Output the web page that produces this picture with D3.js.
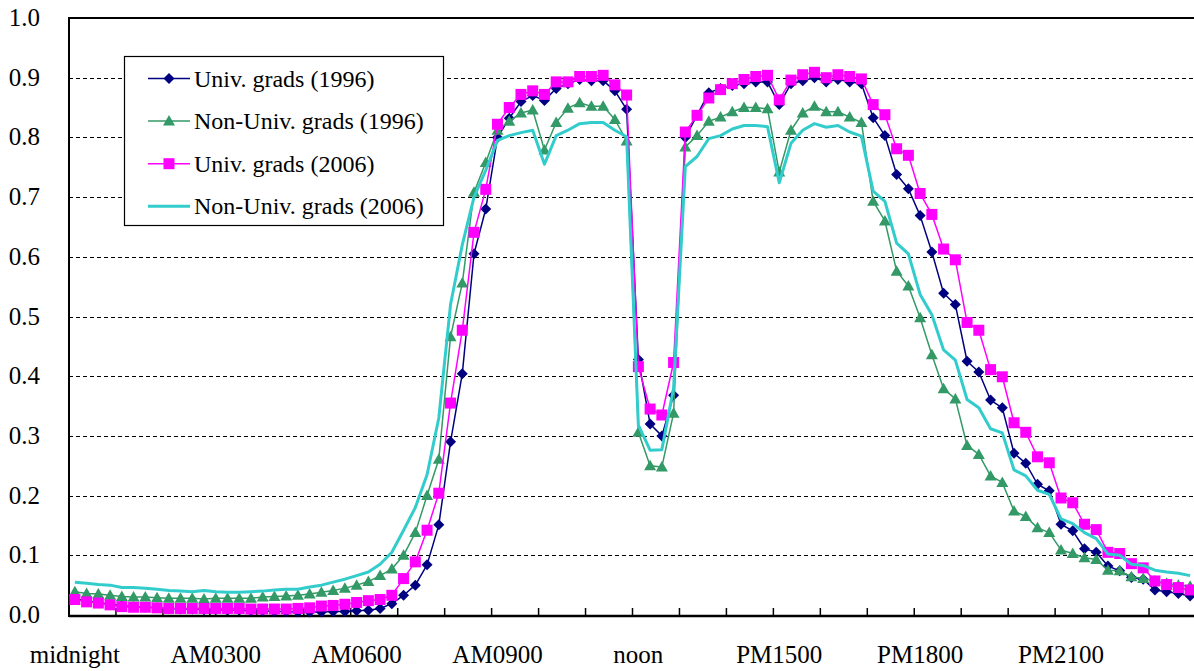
<!DOCTYPE html>
<html>
<head>
<meta charset="utf-8">
<script src="https://cdn.jsdelivr.net/npm/d3@7"></script>
<style>
  body { margin: 0; background: #fff; }
  .ylab { font-family: "Times New Roman", Times, serif; }
  .xlab { font-family: serif; }
  .leg { font-family: Tinos, "Liberation Serif", serif; }
</style>
</head>
<body>
<div id="chart"></div>
<script>
// share of people out of home, by 15-minute slot (96 slots from midnight)
const univ1996 = [
  0.027, 0.024, 0.021, 0.018, 0.016, 0.014, 0.013, 0.012, 0.011, 0.010, 0.010, 0.009,
  0.009, 0.008, 0.008, 0.007, 0.007, 0.006, 0.006, 0.005, 0.005, 0.005, 0.006, 0.006,
  0.007, 0.008, 0.011, 0.019, 0.033, 0.050, 0.084, 0.151, 0.290, 0.404, 0.605, 0.680,
  0.800, 0.832, 0.860, 0.870, 0.862, 0.882, 0.890, 0.897, 0.895, 0.895, 0.878, 0.847,
  0.428, 0.320, 0.300, 0.368, 0.800, 0.837, 0.875, 0.882, 0.887, 0.890, 0.893, 0.893,
  0.855, 0.890, 0.895, 0.900, 0.893, 0.897, 0.893, 0.890, 0.833, 0.803, 0.738, 0.714,
  0.669, 0.608, 0.539, 0.520, 0.425, 0.407, 0.360, 0.347, 0.271, 0.254, 0.219, 0.208,
  0.152, 0.141, 0.111, 0.105, 0.082, 0.074, 0.063, 0.060, 0.042, 0.039, 0.036, 0.032
]
const nonUniv1996 = [
  0.039, 0.036, 0.035, 0.033, 0.031, 0.030, 0.030, 0.029, 0.028, 0.028, 0.028, 0.027,
  0.028, 0.028, 0.028, 0.028, 0.030, 0.031, 0.032, 0.033, 0.035, 0.038, 0.041, 0.045,
  0.050, 0.056, 0.066, 0.077, 0.100, 0.138, 0.200, 0.261, 0.466, 0.556, 0.708, 0.758,
  0.812, 0.827, 0.841, 0.846, 0.779, 0.825, 0.849, 0.858, 0.852, 0.852, 0.830, 0.794,
  0.306, 0.250, 0.248, 0.338, 0.784, 0.803, 0.827, 0.834, 0.843, 0.850, 0.850, 0.848,
  0.742, 0.812, 0.841, 0.852, 0.843, 0.843, 0.834, 0.825, 0.693, 0.660, 0.576, 0.551,
  0.498, 0.436, 0.379, 0.362, 0.284, 0.269, 0.233, 0.222, 0.174, 0.165, 0.146, 0.138,
  0.109, 0.103, 0.096, 0.093, 0.075, 0.074, 0.064, 0.061, 0.057, 0.053, 0.050, 0.048
]
const univ2006 = [
  0.026, 0.022, 0.020, 0.017, 0.014, 0.013, 0.013, 0.012, 0.011, 0.011, 0.011, 0.011,
  0.011, 0.011, 0.011, 0.010, 0.010, 0.010, 0.010, 0.011, 0.012, 0.015, 0.016, 0.018,
  0.021, 0.024, 0.026, 0.033, 0.061, 0.089, 0.142, 0.204, 0.355, 0.477, 0.641, 0.713,
  0.822, 0.850, 0.872, 0.878, 0.872, 0.893, 0.893, 0.902, 0.902, 0.904, 0.888, 0.871,
  0.416, 0.345, 0.335, 0.423, 0.809, 0.837, 0.866, 0.880, 0.890, 0.897, 0.902, 0.904,
  0.863, 0.896, 0.905, 0.909, 0.900, 0.905, 0.902, 0.898, 0.855, 0.838, 0.781, 0.770,
  0.706, 0.671, 0.613, 0.595, 0.490, 0.477, 0.411, 0.399, 0.322, 0.306, 0.265, 0.255,
  0.196, 0.188, 0.152, 0.143, 0.105, 0.103, 0.086, 0.079, 0.057, 0.051, 0.046, 0.042
]
const nonUniv2006 = [
  0.055, 0.053, 0.051, 0.050, 0.046, 0.046, 0.045, 0.043, 0.041, 0.040, 0.039, 0.041,
  0.039, 0.038, 0.038, 0.039, 0.040, 0.042, 0.043, 0.043, 0.047, 0.050, 0.055, 0.060,
  0.066, 0.072, 0.085, 0.105, 0.142, 0.180, 0.235, 0.330, 0.520, 0.620, 0.700, 0.745,
  0.795, 0.803, 0.808, 0.812, 0.755, 0.803, 0.812, 0.823, 0.825, 0.825, 0.812, 0.801,
  0.318, 0.276, 0.277, 0.380, 0.751, 0.768, 0.798, 0.803, 0.814, 0.820, 0.820, 0.818,
  0.724, 0.790, 0.812, 0.823, 0.817, 0.820, 0.809, 0.802, 0.710, 0.693, 0.623, 0.605,
  0.537, 0.503, 0.444, 0.427, 0.361, 0.347, 0.312, 0.305, 0.243, 0.233, 0.209, 0.202,
  0.161, 0.153, 0.138, 0.128, 0.102, 0.100, 0.085, 0.083, 0.075, 0.072, 0.070, 0.066
]

const tickLabels = ["midnight", "AM0300", "AM0600", "AM0900", "noon", "PM1500", "PM1800", "PM2100"]
const yTicks = [0, 0.1, 0.2, 0.3, 0.4, 0.5, 0.6, 0.7, 0.8, 0.9, 1.0]

const seriesNames = ["Univ. grads (1996)", "Non-Univ. grads (1996)", "Univ. grads (2006)", "Non-Univ. grads (2006)"]
const seriesColors = ["#000080", "#339966", "#FF00FF", "#33CCCC"]
const seriesMarkers = ["diamond", "triangle", "square", "none"]
const seriesData = [univ1996, nonUniv1996, univ2006, nonUniv2006]

let width = 1194
let height = 671
let margin = {top: 18, left: 69}
// plot area runs a little past the right edge of the picture
let w = 1127
let h = 597

let root = d3.select('#chart')
    .append('svg')
    .attr('width', width)
    .attr('height', height)

let svg = root.append('g')
    .attr('transform', "translate(" + margin.left + "," + margin.top + ")")

let slots = d3.range(univ1996.length)

let x = d3.scaleBand()
    .domain(slots)
    .range([0, w])

let y = d3.scaleLinear()
    .domain([0, 1])
    .range([h, 0])

let cx = function(i) { return x(i) + x.bandwidth() / 2 }

// dashed gridlines
svg.append('g')
    .selectAll('line')
    .data(yTicks.filter(function(d) { return d > 0 && d < 1 }))
    .enter()
    .append('line')
    .attr('x1', 0)
    .attr('x2', w)
    .attr('y1', function(d) { return Math.round(y(d)) + 0.5 })
    .attr('y2', function(d) { return Math.round(y(d)) + 0.5 })
    .attr('stroke', '#000')
    .attr('stroke-width', 1)
    .attr('stroke-dasharray', '4,3')

// plot border (top)
svg.append('line')
    .attr('x1', 0).attr('x2', w)
    .attr('y1', y(1)).attr('y2', y(1))
    .attr('stroke', '#000').attr('stroke-width', 2)

// y tick labels
root.selectAll('text.ylab')
    .data(yTicks)
    .enter()
    .append('text')
    .attr('class', 'ylab')
    .attr('x', margin.left - 29)
    .attr('y', function(d) { return margin.top + y(d) + 8 })
    .attr('text-anchor', 'end')
    .style('font-size', '25px')
    .text(function(d) { return d3.format('.1f')(d) })

// x tick labels, one every 12 slots
let labelSlots = slots.filter(function(i) { return i % 12 == 0 })
root.selectAll('text.xlab')
    .data(labelSlots)
    .enter()
    .append('text')
    .attr('class', 'xlab')
    .attr('x', function(d) { return margin.left + cx(d) })
    .attr('y', margin.top + h + 48)
    .attr('text-anchor', 'middle')
    .style('font-size', '25px')
    .text(function(d) { return tickLabels[d / 12] })

// hour tick marks, pointing up into the plot
svg.append('g')
    .selectAll('line')
    .data(slots.filter(function(i) { return i % 4 == 0 && i > 0 }))
    .enter()
    .append('line')
    .attr('x1', function(d) { return x(d) })
    .attr('x2', function(d) { return x(d) })
    .attr('y1', h)
    .attr('y2', h - 7)
    .attr('stroke', '#000')
    .attr('stroke-width', 1.5)

svg.append('line')
    .attr('x1', 0).attr('x2', w)
    .attr('y1', h + 1).attr('y2', h + 1)
    .attr('stroke', '#000').attr('stroke-width', 2.5)
svg.append('line')
    .attr('x1', 0).attr('x2', 0)
    .attr('y1', y(1) - 1).attr('y2', h + 2)
    .attr('stroke', '#000').attr('stroke-width', 2)

// marker shapes
function markerPath(type) {
    if (type == 'diamond') return "M0,-5.5L5.5,0L0,5.5L-5.5,0Z"
    if (type == 'triangle') return "M0,-6L6,4.5L-6,4.5Z"
    if (type == 'square') return "M-5.5,-5.5H5.5V5.5H-5.5Z"
    return null
}

let line = d3.line()
    .x(function(d, i) { return cx(i) })
    .y(function(d) { return y(d) })

let plot = svg.append('g')

for (let j = 0; j < seriesData.length; j++) {
    let g = plot.append('g').attr('class', 'series' + j)
    g.append('path')
        .datum(seriesData[j])
        .attr('d', line)
        .attr('fill', 'none')
        .attr('stroke', seriesColors[j])
        .attr('stroke-width', seriesMarkers[j] == 'none' ? 3 : 1.5)
        .attr('stroke-linejoin', 'round')

    if (seriesMarkers[j] != 'none') {
        g.selectAll('path.mark')
            .data(seriesData[j])
            .enter()
            .append('path')
            .attr('class', 'mark')
            .attr('d', markerPath(seriesMarkers[j]))
            .attr('transform', function(d, i) { return "translate(" + cx(i) + "," + y(d) + ")" })
            .attr('fill', seriesColors[j])
    }
}

// legend
let lx = 124, ly = 56
root.append('rect')
    .attr('x', lx + 0.5)
    .attr('y', ly + 0.5)
    .attr('width', 319)
    .attr('height', 169)
    .attr('fill', '#fff')
    .attr('stroke', '#000')
    .attr('stroke-width', 1.2)

let rowY = function(i) { return ly + 22.5 + i * 42.6 }

root.selectAll('line.legline')
    .data(seriesNames)
    .enter()
    .append('line')
    .attr('class', 'legline')
    .attr('x1', lx + 24).attr('x2', lx + 66)
    .attr('y1', function(d, i) { return rowY(i) })
    .attr('y2', function(d, i) { return rowY(i) })
    .attr('stroke', function(d, i) { return seriesColors[i] })
    .attr('stroke-width', function(d, i) { return seriesMarkers[i] == 'none' ? 3 : 1.5 })

root.selectAll('path.legmark')
    .data(seriesNames.filter(function(d, i) { return seriesMarkers[i] != 'none' }))
    .enter()
    .append('path')
    .attr('class', 'legmark')
    .attr('d', function(d) { return markerPath(seriesMarkers[seriesNames.indexOf(d)]) })
    .attr('transform', function(d) { return "translate(" + (lx + 45) + "," + rowY(seriesNames.indexOf(d)) + ")" })
    .attr('fill', function(d) { return seriesColors[seriesNames.indexOf(d)] })

root.selectAll('text.leg')
    .data(seriesNames)
    .enter()
    .append('text')
    .attr('class', 'leg')
    .attr('x', lx + 70)
    .attr('y', function(d, i) { return rowY(i) + 8 })
    .style('font-size', '24px')
    .text(function(d) { return d })
</script>
</body>
</html>
